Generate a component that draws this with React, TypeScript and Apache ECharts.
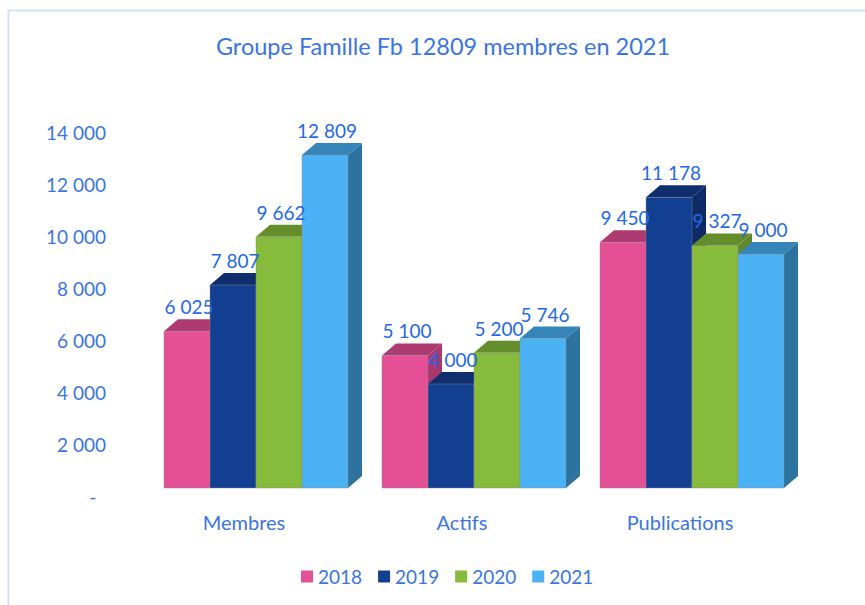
import React, { useEffect, useRef } from "react";
import * as echarts from "echarts";

const categories = ["Membres", "Actifs", "Publications"];
const seriesNames = ["2018", "2019", "2020", "2021"];
const values2018 = [6025, 5100, 9450];
const values2019 = [7807, 4000, 11178];
const values2020 = [9662, 5200, 9327];
const values2021 = [12809, 5746, 9000];
const allValues = [values2018, values2019, values2020, values2021];
const frontColors = ["#E54F96", "#133F92", "#86BB3B", "#4BB2F5"];
const topColors = ["#AE3A72", "#0F2E6E", "#648E2C", "#3585B8"];
const sideColors = ["#A93870", "#0E2B66", "#5F8829", "#2C739F"];

const DEPTH_X = 14;
const DEPTH_Y = 12;
const BAR_WIDTH = 46;

const fmt = (v: number) => String(v).replace(/\B(?=(\d{3})+(?!\d))/g, " ");

function renderBar(seriesIdx: number) {
  return (_params: any, api: any) => {
    const cat = api.value(0);
    const val = api.value(1);
    const [cx, top] = api.coord([cat, val]);
    const [, base] = api.coord([cat, 0]);
    const x0 = cx + (seriesIdx - 2) * BAR_WIDTH;
    const x1 = x0 + BAR_WIDTH;
    const edge = "rgba(140,140,140,0.45)";
    return {
      type: "group",
      children: [
        {
          type: "polygon",
          z2: seriesIdx * 3 + 1,
          shape: { points: [[x1, top], [x1 + DEPTH_X, top - DEPTH_Y], [x1 + DEPTH_X, base - DEPTH_Y], [x1, base]] },
          style: { fill: sideColors[seriesIdx] },
        },
        {
          type: "polygon",
          z2: seriesIdx * 3 + 2,
          shape: { points: [[x0, top], [x0 + DEPTH_X, top - DEPTH_Y], [x1 + DEPTH_X, top - DEPTH_Y], [x1, top]] },
          style: { fill: topColors[seriesIdx] },
        },
        {
          type: "rect",
          z2: seriesIdx * 3 + 3,
          shape: { x: x0, y: top, width: BAR_WIDTH, height: base - top },
          style: { fill: frontColors[seriesIdx], stroke: edge, lineWidth: 1 },
        },
        {
          type: "text",
          z2: 100,
          style: {
            x: cx + (seriesIdx - 1.5) * BAR_WIDTH + 2,
            y: top - 24.5,
            text: fmt(val),
            fill: "#2468E8",
            font: "19px Lato",
            align: "center",
            verticalAlign: "middle",
          },
        },
      ],
    };
  };
}

export default function App() {
  const ref = useRef<HTMLDivElement>(null);
  useEffect(() => {
    const chart = echarts.init(ref.current!, undefined, { renderer: "svg" });
    chart.setOption({
      animation: false,
      backgroundColor: "#ffffff",
      title: {
        text: "Groupe Famille Fb 12809 membres en 2021",
        left: 438,
        top: 29,
        textAlign: "center",
        textStyle: { color: "#3A75E0", fontFamily: "Lato", fontSize: 23.5, fontWeight: "normal" },
      },
      legend: {
        data: seriesNames,
        left: 301,
        top: 567,
        padding: 0,
        icon: "rect",
        itemWidth: 12,
        itemHeight: 12,
        itemGap: 16,
        textStyle: { color: "#3A75E0", fontFamily: "Lato", fontSize: 19 },
      },
      grid: { left: 147, top: 124, width: 654, height: 364 },
      xAxis: {
        type: "category",
        data: categories,
        axisLine: { show: false },
        axisTick: { show: false },
        axisLabel: {
          color: "#3A75E0",
          fontFamily: "Lato",
          fontSize: 20,
          margin: 24,
          padding: [0, 24, 0, 0],
        },
      },
      yAxis: {
        type: "value",
        min: 0,
        max: 14000,
        interval: 2000,
        splitLine: { show: false },
        axisLine: { show: false },
        axisTick: { show: false },
        axisLabel: {
          color: "#3A75E0",
          fontFamily: "Lato",
          fontSize: 19,
          lineHeight: 16,
          margin: 41,
          verticalAlign: "top",
          formatter: (v: number) => (v === 0 ? "-\u00a0\u00a0" : fmt(v)),
        },
      },
      graphic: [
        {
          type: "rect",
          silent: true,
          z: -1,
          shape: { x: 8.5, y: 10.5, width: 870, height: 610 },
          style: { fill: "none", stroke: "#D3E2FB", lineWidth: 2 },
        },
      ],
      series: allValues.map((vals, i) => ({
        type: "custom",
        name: seriesNames[i],
        coordinateSystem: "cartesian2d",
        itemStyle: { color: frontColors[i] },
        encode: { x: 0, y: 1 },
        data: vals.map((v, c) => [c, v]),
        renderItem: renderBar(i),
      })),
    });
    return () => chart.dispose();
  }, []);
  return (
    <div
      ref={ref}
      style={{ position: "fixed", left: 0, top: 0, width: 865, height: 605 }}
    />
  );
}
